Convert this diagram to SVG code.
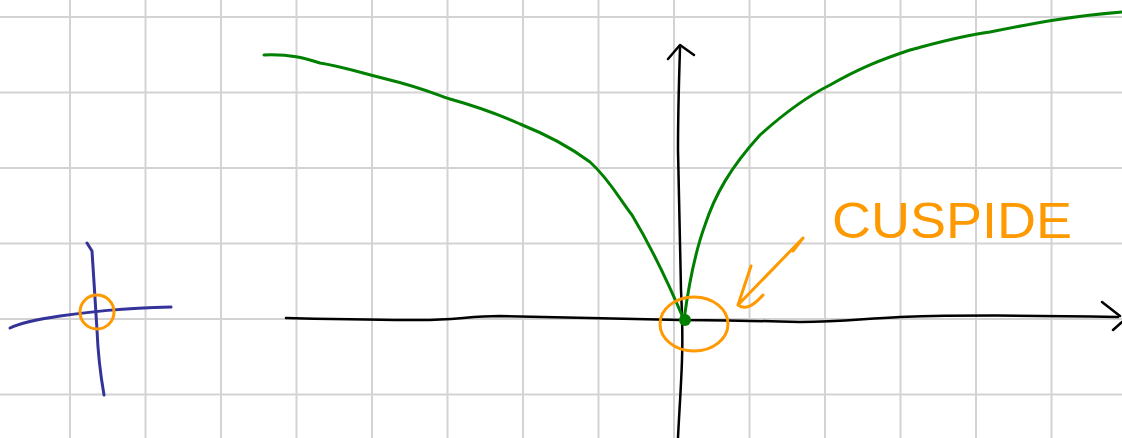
<svg xmlns="http://www.w3.org/2000/svg" width="1122" height="438" viewBox="0 0 1122 438">
<style>
.grid{stroke:#d3d3d3;stroke-width:2;fill:none}
.ink{fill:none;stroke-linecap:round;stroke-linejoin:round}
.axis{stroke:#000;stroke-width:2.5}
.green{stroke:#008000;stroke-width:3}
.orange{stroke:#ff9900;stroke-width:3}
.blue{stroke:#333399;stroke-width:3}
</style>
<rect width="1122" height="438" fill="#fff"/>
<g id="grid" class="grid">
<path d="M70 0V438M145.5 0V438M221 0V438M296.5 0V438M372 0V438M447.5 0V438M523 0V438M598.5 0V438M674 0V438M749.5 0V438M825 0V438M900.5 0V438M976 0V438M1051.5 0V438"/>
<path d="M0 17H1122M0 92.5H1122M0 168H1122M0 243.5H1122M0 319H1122M0 394.5H1122"/>
</g>
<g id="small-sketch" class="ink">
<path class="blue" d="M10 328C20 323 40 319 60 316C90 312 120 308 171 307"/>
<path class="blue" d="M87 243L92 251C94 280 95 300 97 330C98 355 100 372 104 395"/>
<circle class="orange" cx="97" cy="312" r="17"/>
</g>
<g id="axes" class="ink">
<path class="axis" d="M286 318C330 319 370 320 420 320C455 320 470 316 500 316C560 317 620 319 680 320C720 320 760 321 800 322C840 322 860 319 900 317C960 315 1020 315 1118 317"/>
<path class="axis" d="M1102 302L1120 316M1113 330L1122 322"/>
<path class="axis" d="M680 48C679 80 678 110 678 150C679 200 680 250 681 290C682 310 683 330 682 360C681 390 679 415 678 438"/>
<path class="axis" d="M668 59L680 45L694 55"/>
</g>
<g id="curve" class="ink">
<path class="green" d="M264 55C290 54 305 58 320 63C345 67 365 74 390 80C415 86 430 92 450 99C475 106 500 115 520 124C550 136 570 147 590 162C610 180 620 200 632 215C650 245 665 275 684 320"/>
<path class="green" d="M684 320C688 290 694 255 705 225C715 195 730 168 760 135C790 108 810 95 830 85C860 68 880 60 910 50C940 42 960 36 990 32C1030 24 1070 16 1122 12"/>
<circle cx="685" cy="320" r="6" fill="#008000"/>
</g>
<g id="cusp-label" class="ink">
<ellipse class="orange" cx="694" cy="324" rx="34" ry="27"/>
<path class="orange" d="M803 238L738 305M803 238L793 251M751 266L738 305C745 310 752 307 763 295"/>
<text x="832" y="238" font-family="Liberation Sans, Arial, sans-serif" font-size="50" fill="#ff9900" textLength="240" lengthAdjust="spacingAndGlyphs">CUSPIDE</text>
</g>
</svg>
